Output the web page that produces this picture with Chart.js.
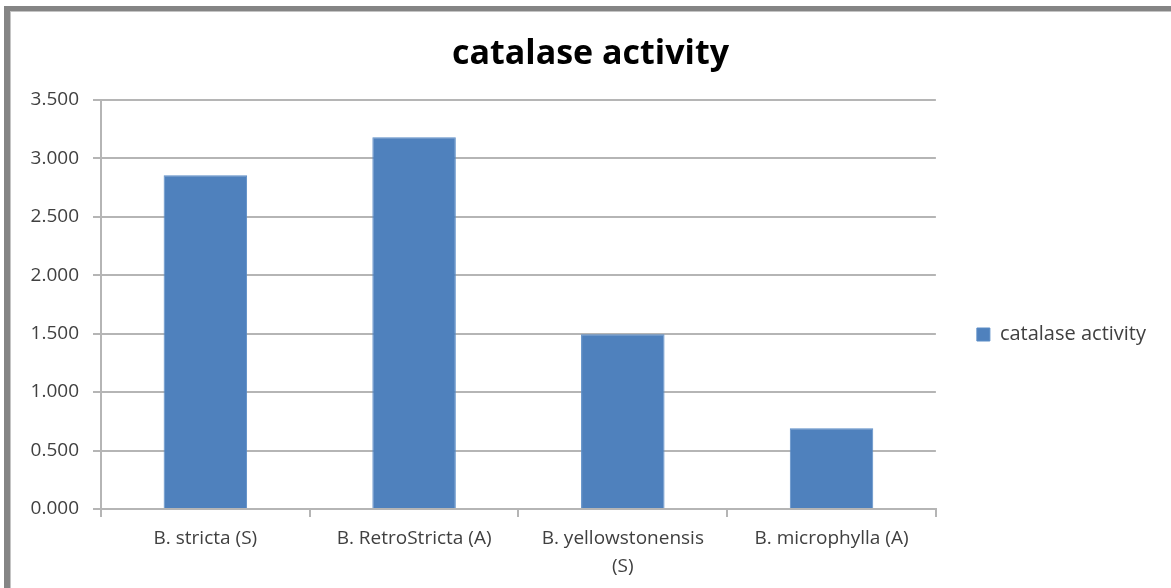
<!DOCTYPE html>
<html>
<head>
<meta charset="utf-8">
<script src="https://cdn.jsdelivr.net/npm/chart.js@4"></script>
<style>
  body { margin: 0; background: #fff; }
  #wrap { position: relative; width: 1171px; height: 588px; overflow: hidden; }
  #frame {
    position: absolute; left: 4px; top: 6px; width: 1200px; height: 580px;
    border-left: 6px solid #858585; border-top: 5px solid #858585;
    border-bottom: 1px solid #e6e6e6;
    box-shadow: inset 1px 1px 0 #c4c4c4;
    pointer-events: none;
  }
  canvas { position: absolute; left: 0; top: 0; }
</style>
</head>
<body>
<div id="wrap">
  <canvas id="chart" width="1171" height="588"></canvas>
  <div id="frame"></div>
</div>
<script>
// =======================
// Data
// =======================
const categories = [
  "B. stricta (S)",
  "B. RetroStricta (A)",
  ["B. yellowstonensis", "(S)"],
  "B. microphylla (A)"
]
const catalaseValues = [2.855, 3.18, 1.495, 0.69]
const seriesName = "catalase activity"
const yTicks = [0, 0.5, 1, 1.5, 2, 2.5, 3, 3.5]

const FONT = "'Open Sans', sans-serif"
const TEXT = "#404040"
const GRID = "#b5b5b5"


// =======================
// Push the legend down a bit (Excel centres it lower)
// =======================
const legendShift = {
  id: "legendShift",
  afterLayout(chart) {
    chart.legend.top += 40
    chart.legend.bottom += 40
  }
}


// =======================
// Chart
// =======================
new Chart(document.getElementById("chart"), {
  type: "bar",
  data: {
    labels: categories,
    datasets: [{
      label: seriesName,
      data: catalaseValues,
      backgroundColor: "#4f81bd",
      borderColor: "#5b8cc6",
      borderWidth: 1,
      categoryPercentage: 1,
      barPercentage: 0.4
    }]
  },
  options: {
    responsive: false,
    animation: false,
    layout: { padding: { left: 25, right: 15, top: 10, bottom: 9 } },
    plugins: {
      tooltip: { enabled: false },
      title: {
        display: true,
        text: seriesName,
        color: "#000",
        font: { family: FONT, size: 34, weight: "bold", lineHeight: 1.2 },
        padding: { top: 24, bottom: 25 }
      },
      legend: {
        position: "right",
        labels: {
          color: TEXT,
          font: { family: FONT, size: 20 },
          boxWidth: 13,
          boxHeight: 13,
          padding: 41
        }
      }
    },
    scales: {
      x: {
        afterFit: s => { s.height = 70 },
        grid: {
          display: true,
          drawOnChartArea: false,
          drawTicks: true,
          tickLength: 8,
          color: GRID,
          lineWidth: 2
        },
        border: { color: GRID, width: 2 },
        ticks: {
          color: TEXT,
          font: { family: FONT, size: 19, lineHeight: 1.45 },
          padding: 8,
          maxRotation: 0,
          autoSkip: false
        }
      },
      y: {
        min: 0,
        max: 3.5,
        afterFit: s => { s.width = 76 },
        afterBuildTicks: s => { s.ticks = yTicks.map(v => ({ value: v })) },
        grid: { color: GRID, lineWidth: 2, tickLength: 8 },
        border: { color: GRID, width: 2 },
        ticks: {
          color: TEXT,
          font: { family: FONT, size: 19 },
          padding: 14,
          callback: v => Number(v).toFixed(3)
        }
      }
    }
  },
  plugins: [legendShift]
})
</script>
</body>
</html>
